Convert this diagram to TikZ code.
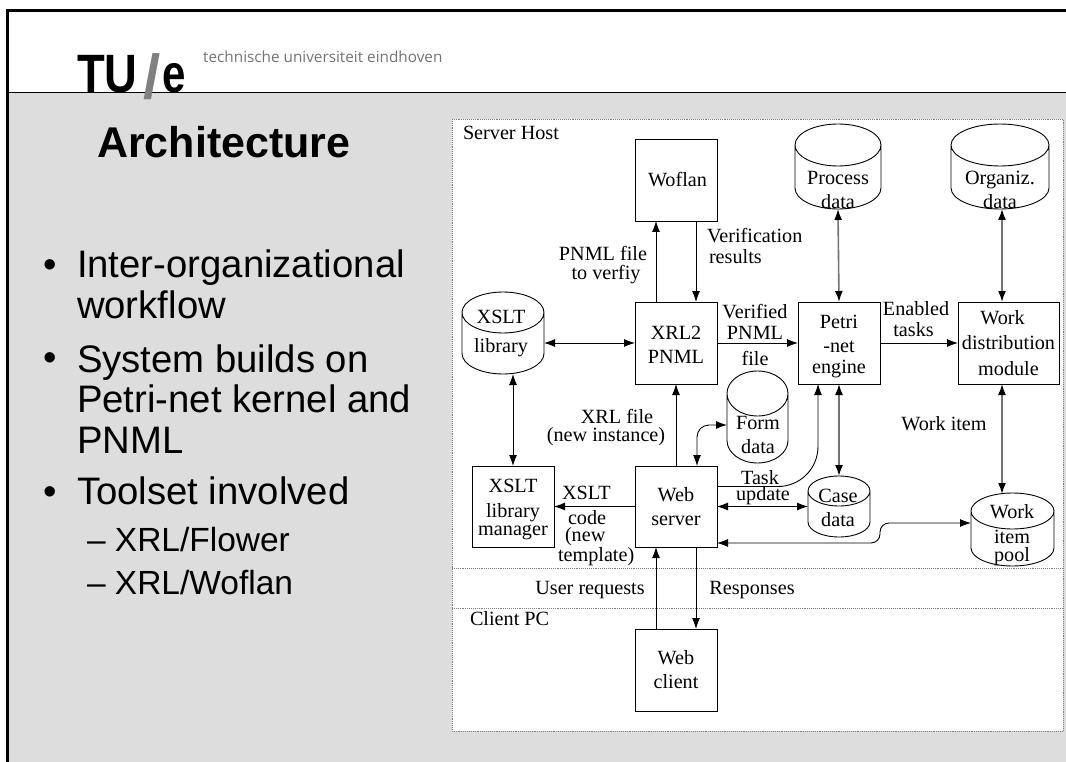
\documentclass[tikz,border=0pt]{standalone}
\usepackage{fontspec}
\setmainfont{Liberation Serif}
\setsansfont{Liberation Sans}
\newfontfamily\logofont{Open Sans}
\usetikzlibrary{arrows.meta}
\definecolor{slidegray}{HTML}{DDDDDD}
\tikzset{
	boxnode/.style={draw,line width=.9pt,inner sep=0pt,outer sep=0pt,align=center,font=\fontsize{20.2}{24}\selectfont},
	dbnode/.style n args={2}{inner sep=0pt,outer sep=0pt,minimum width=#1pt,minimum height=#2pt},
	txtnode/.style={inner sep=0pt,outer sep=0pt,align=center,font=\fontsize{20.2}{21}\selectfont},
	bodytxt/.style={inner sep=0pt,outer sep=0pt,anchor=base west,align=left,font=\sffamily\fontsize{38.3}{40.5}\selectfont},
	subtxt/.style={inner sep=0pt,outer sep=0pt,anchor=base west,font=\sffamily\fontsize{33.5}{40}\selectfont},
	conn/.style={line width=.9pt,>={Latex[length=11pt,width=8pt]}},
	grayconn/.style={line width=1.6pt,draw=black!55,>={Latex[length=11pt,width=8pt,black]}},
	zoneline/.style={draw=black!50,line width=.9pt,densely dotted}
}
% outline of a data store round a named node: name, x radius, y radius
\newcommand{\dbshape}[3]{%
	\draw [line width=.9pt] ([yshift=-#3pt]#1.north west) -- ([yshift=#3pt]#1.south west)
		arc [start angle=180,end angle=360,x radius=#2pt,y radius=#3pt]
		-- ([yshift=-#3pt]#1.north east)
		arc [start angle=0,end angle=180,x radius=#2pt,y radius=#3pt]
		arc [start angle=180,end angle=360,x radius=#2pt,y radius=#3pt];
}
\begin{document}
\begin{tikzpicture}[x=1pt,y=-1pt]
	\useasboundingbox (0,0) rectangle (1066,762);
	% slide
	\fill [slidegray] (8,93) rectangle (1066,762);
	\draw [line width=1pt] (8,93) -- (1066,93);
	\draw [line width=3pt] (7.5,762) -- (7.5,10.5) -- (1066,10.5);
	% logo
	\node [anchor=base west,inner sep=0pt,xscale=.84,transform shape,font=\sffamily\bfseries\fontsize{54}{54}\selectfont] (logotu) at (77,93) {TU};
	\node [anchor=base west,inner sep=0pt,text=black!50,font=\sffamily\bfseries\fontsize{62}{62}\selectfont] (logoslash) at (143.5,99) {/};
	\node [anchor=base west,inner sep=0pt,xscale=.78,transform shape,font=\sffamily\bfseries\fontsize{54}{54}\selectfont] (logoe) at (162,93) {e};
	\node [anchor=base west,inner sep=0pt,text=black!55,font=\logofont\fontsize{15.3}{15}\selectfont] (logotxt) at (203,63) {technische universiteit eindhoven};
	% left text
	\node [anchor=base west,inner sep=0pt,font=\sffamily\bfseries\fontsize{43}{43}\selectfont] (title) at (97,158) {Architecture};
	\node [bodytxt] (bulletone) at (43.5,278) {•};
	\node [bodytxt] (itemone) at (77,318.5) {Inter-organizational\\workflow};
	\node [bodytxt] (bullettwo) at (43.5,370) {•};
	\node [bodytxt] (itemtwo) at (77,453) {System builds on\\Petri-net kernel and\\PNML};
	\node [bodytxt] (bulletthree) at (43.5,504) {•};
	\node [bodytxt] (itemthree) at (77,504) {Toolset involved};
	\node [subtxt] (subone) at (87,551) {– XRL/Flower};
	\node [subtxt] (subtwo) at (87,594) {– XRL/Woflan};
	% zones
	\fill [white] (452,119) rectangle (1063,731);
	\draw [zoneline] (452,119) rectangle (1063,731);
	\draw [zoneline] (452,568) -- (1063,568);
	\draw [zoneline] (452,608) -- (1063,608);
	\node [txtnode,anchor=west] (serverhost) at (463,133) {Server Host};
	\node [txtnode,anchor=west] (clientpc) at (470,619) {Client PC};
	% boxes
	\node [boxnode,minimum width=82pt,minimum height=82pt] (woflan) at (676,180) {\hspace*{3pt}Woflan};
	\node [boxnode,minimum width=82pt,minimum height=82pt] (xrl) at (676,343) {\rule{0pt}{16pt}XRL2\\PNML};
	\node [boxnode,minimum width=82pt,minimum height=82pt] (petri) at (839,343) {\rule{0pt}{21pt}Petri\\-net\\[-3pt]engine};
	\node [boxnode,minimum width=101pt,minimum height=82pt] (workdist) at (1008.5,343) {\hspace*{-12pt}Work\\[1.5pt]distribution\\[1.5pt]module};
	\node [boxnode,minimum width=82pt,minimum height=81pt] (libman) at (513,506.5) {\rule{0pt}{19pt}XSLT\\[1pt]library\\[-6pt]manager};
	\node [boxnode,minimum width=82pt,minimum height=81pt] (webserver) at (676,506.5) {Web\\server};
	\node [boxnode,minimum width=82pt,minimum height=82pt] (webclient) at (676,670) {Web\\client};
	% data stores
	\node [dbnode={82}{82}] (xsltlib) at (503,333) {};
	\dbshape{xsltlib}{41}{20.5}
	\node [dbnode={86}{85}] (procdata) at (838,166.5) {};
	\dbshape{procdata}{43}{21}
	\node [dbnode={98}{85}] (orgdata) at (1000,166.5) {};
	\dbshape{orgdata}{49}{21}
	\node [dbnode={61}{92}] (formdata) at (757.5,417) {};
	\dbshape{formdata}{30.5}{22.5}
	\node [dbnode={62}{61}] (casedata) at (839,506.5) {};
	\dbshape{casedata}{31}{15}
	\node [dbnode={83}{73}] (itempool) at (1012.5,529.5) {};
	\dbshape{itempool}{41.5}{18}
	\node [txtnode] (xsltlibtxt) at (501,333.5) {XSLT\\[8pt]library};
	\node [txtnode] (procdatatxt) at (838,190) {Process\\[3pt]data};
	\node [txtnode] (orgdatatxt) at (1000,190) {Organiz.\\[3pt]data};
	\node [txtnode] (formdatatxt) at (758,435) {Form\\[3pt]data};
	\node [txtnode] (casedatatxt) at (838,508) {Case\\[3pt]data};
	\node [txtnode] (itempooltxt) at (1012,535.5) {Work\\[4pt]item\\[-3pt]pool};
	% connectors
	\draw [conn,->] ([xshift=-20pt]xrl.north) -- ([xshift=-20pt]woflan.south);
	\draw [conn,->] ([xshift=20pt]woflan.south) -- ([xshift=20pt]xrl.north);
	\draw [conn,<->] (xsltlib.east |- xrl.west) -- (xrl.west);
	\draw [conn,->] (xrl.east) -- (petri.west);
	\draw [conn,->] (petri.east) -- (workdist.west);
	\draw [grayconn,<->] (procdata.south) -- (petri.north);
	\draw [grayconn,<->] ([xshift=2pt]orgdata.south) -- ([xshift=-6.5pt]workdist.north);
	\draw [grayconn,<->] ([xshift=-6.5pt]workdist.south) -- ([xshift=-10.5pt,yshift=-1pt]itempool.north);
	\draw [grayconn,<->] (petri.south) -- (casedata.north);
	\draw [conn,<->] ([xshift=10pt]xsltlib.south) -- (libman.north);
	\draw [conn,->] (webserver.north) -- (xrl.south);
	\draw [conn,->] (webserver.west) -- (libman.east);
	\draw [conn,<->] (webserver.east) -- (casedata.west);
	\coordinate (poolbend) at (880,523);
	\draw [conn,<->,rounded corners=9pt] ([yshift=-36.5pt]webserver.east) -| (poolbend) -- (itempool.west |- poolbend);
	\draw [conn,->,rounded corners=40pt] ([yshift=20pt]webserver.east) -| ([xshift=-21pt]petri.south);
	\draw [conn,<->,rounded corners=12pt] ([xshift=21pt]webserver.north) |- ([yshift=-8pt]formdata.west);
	\draw [conn,->] ([xshift=20pt]webserver.south) -- ([xshift=20pt]webclient.north);
	\draw [conn,->] ([xshift=-20pt]webclient.north) -- ([xshift=-20pt]webserver.south);
	% labels
	\node [txtnode,font=\fontsize{20.2}{19}\selectfont] (pnmltxt) at (603,265.5) {PNML file\\\hspace*{6pt}to verfiy};
	\node [txtnode,align=left,anchor=west] (verifytxt) at (707,245.5) {Verification\\\hspace*{2pt}results};
	\node [txtnode] (verifiedtxt) at (755,335) {Verified\\PNML\\[5pt]file};
	\node [txtnode] (enabledtxt) at (916,319.5) {Enabled\\\hspace*{-5pt}tasks};
	\node [txtnode] (itemtxt) at (944,424) {Work item};
	\node [txtnode,font=\fontsize{20.2}{18}\selectfont] (xrlfiletxt) at (606,428) {\hspace*{22pt}XRL file\\(new instance)};
	\node [txtnode,align=left,anchor=north west,font=\fontsize{20.2}{19}\selectfont] (codetxt) at (558,486) {\hspace*{4pt}XSLT\\[6pt]\hspace*{10pt}code\\[-2pt]\hspace*{7pt}(new\\[1pt]template)};
	\node [txtnode,font=\fontsize{20.2}{16}\selectfont] (tasktxt) at (763,488) {\hspace*{-6pt}Task\\update};
	\node [txtnode] (requesttxt) at (590,590) {User requests};
	\node [txtnode] (responsetxt) at (752,590) {Responses};
\end{tikzpicture}
\end{document}
